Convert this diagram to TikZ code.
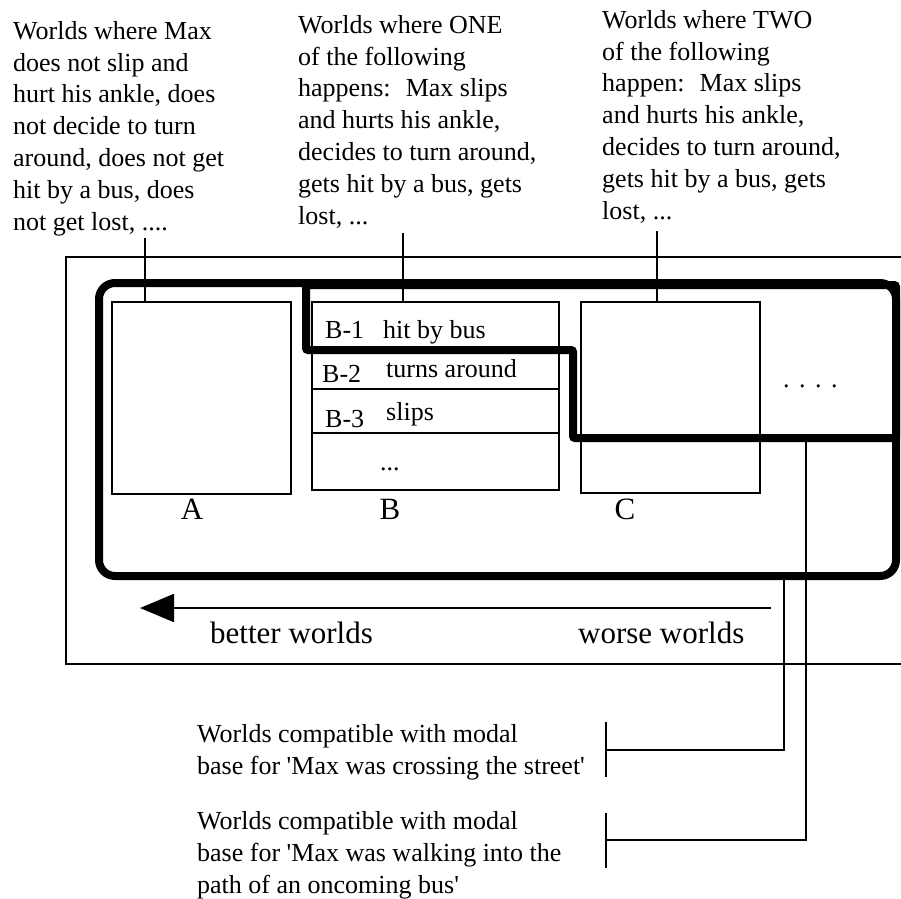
\documentclass[tikz,border=0pt]{standalone}
\usepackage{fontspec}
\setmainfont{Liberation Serif}[Ligatures=TeXOff]
\usetikzlibrary{arrows.meta}
\begin{document}
\begin{tikzpicture}[x=1pt,y=-1pt,
  thinline/.style={line width=1.6pt},
  heavy/.style={line width=8pt},
  txt/.style={font=\fontsize{26}{31.8}\selectfont, inner sep=0pt, align=left, anchor=base west},
  big/.style={font=\fontsize{31}{36}\selectfont, inner sep=0pt, anchor=base west},
  lbl/.style={font=\fontsize{31}{36}\selectfont, inner sep=0pt, anchor=base}]
\useasboundingbox (0,0) rectangle (901,898);
% top text blocks (anchored at the baseline of their last line)
\node[txt] (tA) at (13,230) {Worlds where Max\\does not slip and\\hurt his ankle, does\\not decide to turn\\around, does not get\\hit by a bus, does\\not get lost, ....};
\node[txt] (tB) at (298,224) {Worlds where ONE\\of the following\\happens: \ Max slips\\and hurts his ankle,\\decides to turn around,\\gets hit by a bus, gets\\lost, ...};
\node[txt] (tC) at (602,219) {Worlds where TWO\\of the following\\happen: \ Max slips\\and hurts his ankle,\\decides to turn around,\\gets hit by a bus, gets\\lost, ...};
% outer frame
\draw[thinline] (905,257) -- (66,257) -- (66,664) -- (905,664);
% boxes
\draw[thinline] (112,302) rectangle (291,494);
\draw[thinline] (312,302) rectangle (559,490);
\draw[thinline] (312,350) -- (559,350);
\draw[thinline] (312,389) -- (559,389);
\draw[thinline] (312,433) -- (559,433);
\draw[thinline] (581,302) rectangle (760,493);
\coordinate (boxA) at (145,302);
\coordinate (boxB) at (403,302);
\coordinate (boxC) at (657,302);
\coordinate (la) at (145,238);
\coordinate (lb) at (403,233);
\coordinate (lc) at (657,231);
\draw[thinline] (la) -- (boxA);
\draw[thinline] (lb) -- (boxB);
\draw[thinline] (lc) -- (boxC);
% labels in B
\node[txt] (b1) at (325,338) {B-1};
\node[txt] (b1t) at (383,338) {hit by bus};
\node[txt] (b2) at (322,382) {B-2};
\node[txt] (b2t) at (386,377) {turns around};
\node[txt] (b3) at (325,427) {B-3};
\node[txt] (b3t) at (386,420) {slips};
\node[txt] (b4) at (380,470) {...};
\node[txt] (dots) at (783,387) {.\hspace{9.5pt}.\hspace{9.5pt}.\hspace{9.5pt}.};
\node[lbl] (lA) at (192,519) {A};
\node[lbl] (lB) at (390,519) {B};
\node[lbl] (lC) at (625,519) {C};
% thick regions
\draw[heavy, rounded corners=16pt] (99,283) rectangle (896,576);
\draw[heavy, rounded corners=2pt] (306,285) -- (306,350) -- (573,350) -- (573,438) -- (896,438) -- (896,285) -- cycle;
% arrow
\coordinate (arrS) at (771,608);
\coordinate (arrE) at (140,608);
\draw[line width=2pt, -{Triangle[length=34pt,width=28pt]}] (arrS) -- (arrE);
\node[big] (better) at (210,643) {better worlds};
\node[big] (worse) at (578,643) {worse worlds};
% bottom texts
\node[txt] (m1) at (197,774) {Worlds compatible with modal\\base for 'Max was crossing the street'};
\node[txt] (m2) at (197,893) {Worlds compatible with modal\\base for 'Max was walking into the\\path of an oncoming bus'};
% brackets
\coordinate (r1) at (784,576);
\coordinate (k1) at (784,750);
\coordinate (s1) at (606,750);
\coordinate (r2) at (806,438);
\coordinate (k2) at (806,840);
\coordinate (s2) at (606,840);
\draw[line width=2pt] (r1) -- (k1) -- (s1);
\draw[line width=2pt] (606,722) -- (606,777);
\draw[line width=2pt] (r2) -- (k2) -- (s2);
\draw[line width=2pt] (606,813) -- (606,868);
\end{tikzpicture}
\end{document}
